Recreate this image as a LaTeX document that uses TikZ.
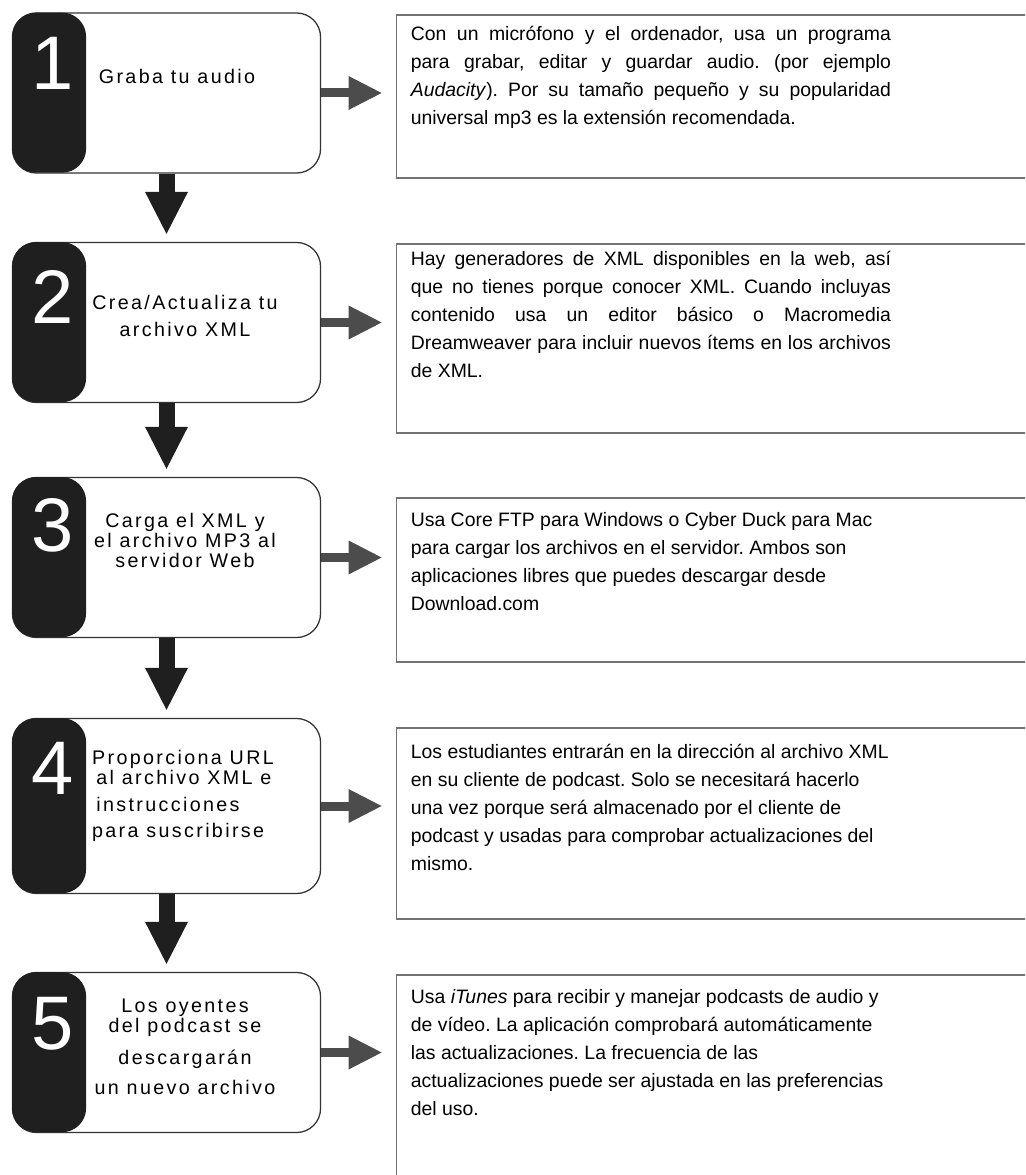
\documentclass[tikz,border=0pt]{standalone}
\usepackage{fontspec}
\setmainfont{Liberation Sans}
\newfontfamily\stepfont{Liberation Sans}[LetterSpace=12]
\usetikzlibrary{calc,arrows.meta}
\frenchspacing
\tikzset{
	stepbox/.style={draw=black!80, line width=0.9pt, fill=white, rounded corners=0.6cm, minimum width=7.7cm, minimum height=4cm},
	tabbox/.style={fill=black!88, rounded corners=0.6cm, minimum width=1.85cm, anchor=north west, inner sep=0pt},
	numtext/.style={text=white, font=\fontsize{54}{54}\selectfont, inner sep=0pt},
	steptext/.style={font=\stepfont\fontsize{14}{14.2}\selectfont, align=center, inner sep=0pt},
	infobox/.style={draw=black!55, line width=1.2pt, minimum width=16.1cm, inner sep=0pt},
	infotext/.style={font=\fontsize{13.8}{19.85}\selectfont, anchor=north west, inner sep=0pt},
	nextstep/.style={draw=black!88, line width=0.4cm, -{Triangle[width=1.075cm, length=1.05cm, line width=0pt]}, shorten >=0.2cm},
	toinfo/.style={draw=black!70, line width=0.225cm, -{Triangle[width=0.85cm, length=0.825cm, line width=0pt]}, shorten >=0.35cm}
}

\begin{document}
\frenchspacing
\begin{tikzpicture}[x=0.025cm, y=-0.025cm]
			%%%%% START %%%%%
			\clip (0, 0) rectangle (1025, 1175);
			
			% step 1
			\node[stepbox] (stepA) at (166.5, 93) {};
			\node[tabbox, minimum height=4cm] (tabA) at (stepA.north west) {};
			\node[numtext] (numA) at ($(tabA.north)+(3, 51)$) {1};
			\node[steptext] (txtA) at ($(stepA.north)+(10.5, 64)$) {Graba tu audio};
			
			\node[infobox, minimum height=4.075cm] (infoA) at (718.5, 96.5) {};
			\node[infotext, text width=12cm, align=justify] (descA) at ($(infoA.north west)+(15, 12)$) {Con un micrófono y el ordenador, usa un programa\linebreak para grabar, editar y guardar audio. (por ejemplo\linebreak \textit{Audacity}). Por su tamaño pequeño y su popularidad\linebreak universal mp3 es la extensión recomendada.};
			
			% step 2
			\node[stepbox] (stepB) at (166.5, 322.5) {};
			\node[tabbox, minimum height=4cm] (tabB) at (stepB.north west) {};
			\node[numtext] (numB) at ($(tabB.north)+(3, 55)$) {2};
			\node[steptext] (txtB) at ($(stepB.north)+(18.5, 74)$) {Crea/Actualiza tu\\[5pt]archivo XML};
			
			\node[infobox, minimum height=4.725cm] (infoB) at (718.5, 338.5) {};
			\node[infotext, text width=12cm, align=justify] (descB) at ($(infoB.north west)+(15, 8)$) {Hay generadores de XML disponibles en la web, así\linebreak que no tienes porque conocer XML. Cuando incluyas\linebreak contenido usa un editor básico o Macromedia\linebreak Dreamweaver para incluir nuevos ítems en los archivos\linebreak de XML.};
			
			% step 3
			\node[stepbox] (stepC) at (166.5, 557.5) {};
			\node[tabbox, minimum height=4cm] (tabC) at (stepC.north west) {};
			\node[numtext] (numC) at ($(tabC.north)+(3, 49)$) {3};
			\node[steptext] (txtC) at ($(stepC.north)+(18.5, 64)$) {Carga el XML y\\el archivo MP3 al\\servidor Web};
			
			\node[infobox, minimum height=4.1cm] (infoC) at (718.5, 580) {};
			\node[infotext, align=left] (descC) at ($(infoC.north west)+(15, 15)$) {Usa Core FTP para Windows o Cyber Duck para Mac\\para cargar los archivos en el servidor. Ambos son\\aplicaciones libres que puedes descargar desde\\Download.com};
			
			% step 4
			\node[stepbox, minimum height=4.375cm] (stepD) at (166.5, 806) {};
			\node[tabbox, minimum height=4.375cm] (tabD) at (stepD.north west) {};
			\node[numtext] (numD) at ($(tabD.north)+(3, 51)$) {4};
			\node[steptext, align=left, anchor=west] (txtD) at ($(stepD.west)+(80, -10)$) {Proporciona URL\\\hspace*{3pt}al archivo XML e\\[5pt]\hspace*{3pt}instrucciones\\[4pt]para suscribirse};
			
			\node[infobox, minimum height=4.775cm] (infoD) at (718.5, 823.5) {};
			\node[infotext, align=left] (descD) at ($(infoD.north west)+(15, 17)$) {Los estudiantes entrarán en la dirección al archivo XML\\en su cliente de podcast. Solo se necesitará hacerlo\\una vez porque será almacenado por el cliente de\\podcast y usadas para comprobar actualizaciones del\\mismo.};
			
			% step 5
			\node[stepbox] (stepE) at (166.5, 1052.5) {};
			\node[tabbox, minimum height=4cm] (tabE) at (stepE.north west) {};
			\node[numtext] (numE) at ($(tabE.north)+(3, 52)$) {5};
			\node[steptext] (txtE) at ($(stepE.north)+(18.5, 75)$) {Los oyentes\\del podcast se\\[9pt]descargarán\\[7pt]un nuevo archivo};
			
			\node[infobox, minimum height=5.375cm] (infoE) at (718.5, 1082.5) {};
			\node[infotext, align=left] (descE) at ($(infoE.north west)+(15, 15)$) {Usa \textit{iTunes} para recibir y manejar podcasts de audio y\\de vídeo. La aplicación comprobará automáticamente\\las actualizaciones. La frecuencia de las\\actualizaciones puede ser ajustada en las preferencias\\del uso.};
			
			% arrows
			\draw[nextstep] (stepA.south) -- (stepB.north);
			\draw[nextstep] (stepB.south) -- (stepC.north);
			\draw[nextstep] (stepC.south) -- (stepD.north);
			\draw[nextstep] (stepD.south) -- (stepE.north);
			
			\draw[toinfo] (stepA.east) -- (stepA.east -| infoA.west);
			\draw[toinfo] (stepB.east) -- (stepB.east -| infoB.west);
			\draw[toinfo] (stepC.east) -- (stepC.east -| infoC.west);
			\draw[toinfo] (stepD.east) -- (stepD.east -| infoD.west);
			\draw[toinfo] (stepE.east) -- (stepE.east -| infoE.west);
			%%%%% END %%%%%
\end{tikzpicture}
\end{document}
